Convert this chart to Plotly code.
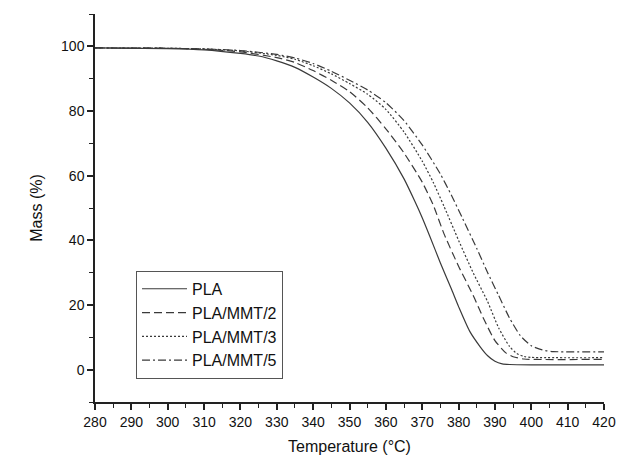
import plotly.graph_objects as go

temp_pla = [280, 300, 310, 320, 325, 330, 335, 340, 345, 350, 355, 360, 365, 368, 370, 372, 375, 378, 380, 383, 386, 388, 390, 392, 394, 400, 420]
mass_pla = [99.5, 99.3, 98.9, 97.8, 97.0, 95.5, 93.5, 90.5, 87.0, 82.5, 76.5, 68.5, 59.0, 52.0, 47.0, 41.5, 33.0, 25.0, 19.5, 12.0, 7.0, 4.3, 2.6, 1.8, 1.6, 1.5, 1.5]

temp_m2 = [280, 300, 310, 320, 330, 335, 340, 345, 350, 355, 360, 365, 370, 373, 376, 380, 384, 387, 390, 393, 395, 398, 420]
mass_m2 = [99.5, 99.4, 99.1, 98.3, 96.5, 95.0, 92.5, 89.5, 86.0, 81.0, 74.5, 67.0, 58.0, 51.0, 42.0, 32.0, 23.0, 15.5, 9.0, 5.2, 4.0, 3.3, 3.2]

temp_m3 = [280, 300, 310, 320, 330, 335, 340, 345, 350, 355, 360, 365, 370, 373, 376, 380, 384, 388, 391, 394, 396, 398, 400, 420]
mass_m3 = [99.5, 99.4, 99.2, 98.6, 97.2, 96.0, 94.0, 91.5, 88.5, 85.2, 80.5, 73.5, 64.5, 58.0, 50.5, 40.0, 30.0, 21.0, 13.0, 7.2, 5.0, 4.1, 3.8, 3.7]

temp_m5 = [280, 300, 310, 320, 330, 335, 340, 345, 350, 355, 360, 365, 370, 375, 378, 381, 385, 388, 391, 394, 397, 400, 403, 406, 420]
mass_m5 = [99.5, 99.4, 99.2, 98.7, 97.5, 96.4, 94.7, 92.3, 89.5, 86.5, 82.6, 77.0, 69.5, 60.5, 54.0, 47.0, 37.5, 30.0, 23.0, 16.0, 10.5, 7.4, 6.1, 5.6, 5.5]

series = [
    ("PLA", temp_pla, mass_pla, "solid"),
    ("PLA/MMT/2", temp_m2, mass_m2, "8px,4px"),
    ("PLA/MMT/3", temp_m3, mass_m3, "2px,2px"),
    ("PLA/MMT/5", temp_m5, mass_m5, "8px,3px,2px,3px"),
]

x_ticks = list(range(280, 421, 10))
y_ticks = list(range(0, 101, 20))

fig = go.Figure()
for name, t, m, dash in series:
    fig.add_trace(go.Scatter(x=t, y=m, mode="lines", name=name,
                             line=dict(color="#3a3a3a", width=1.2, dash=dash, shape="spline", smoothing=0.6)))

axis_common = dict(showgrid=False, zeroline=False, showline=True, linecolor="#222", linewidth=1.5,
                   ticks="outside", ticklen=6, tickwidth=1.5, tickcolor="#222",
                   tickfont=dict(family="Liberation Sans, Arial", size=14, color="#111"),
                   mirror=False)

fig.update_xaxes(range=[280, 420], tickvals=x_ticks, ticktext=[str(v) for v in x_ticks],
                 minor=dict(dtick=5, ticks="outside", ticklen=4, tickwidth=1.2, tickcolor="#222"),
                 title=dict(text="Temperature (°C)", font=dict(family="Liberation Sans, Arial", size=16, color="#111"), standoff=12),
                 **axis_common)
fig.update_yaxes(range=[-10, 110], tickvals=y_ticks, ticktext=[str(v) for v in y_ticks],
                 minor=dict(dtick=10, tick0=0, ticks="outside", ticklen=4, tickwidth=1.2, tickcolor="#222"),
                 title=dict(text="Mass (%)", font=dict(family="Liberation Sans, Arial", size=16, color="#111"), standoff=14),
                 **axis_common)

fig.update_layout(
    width=640, height=465,
    margin=dict(l=95, r=36, t=14, b=61),
    plot_bgcolor="white", paper_bgcolor="white",
    legend=dict(x=0.0806, y=0.338, xanchor="left", yanchor="top",
                bgcolor="white", bordercolor="#555", borderwidth=1,
                font=dict(family="Liberation Sans, Arial", size=16, color="#111"),
                itemwidth=45, tracegroupgap=0),
    showlegend=True,
)

fig.write_html("out.html")
